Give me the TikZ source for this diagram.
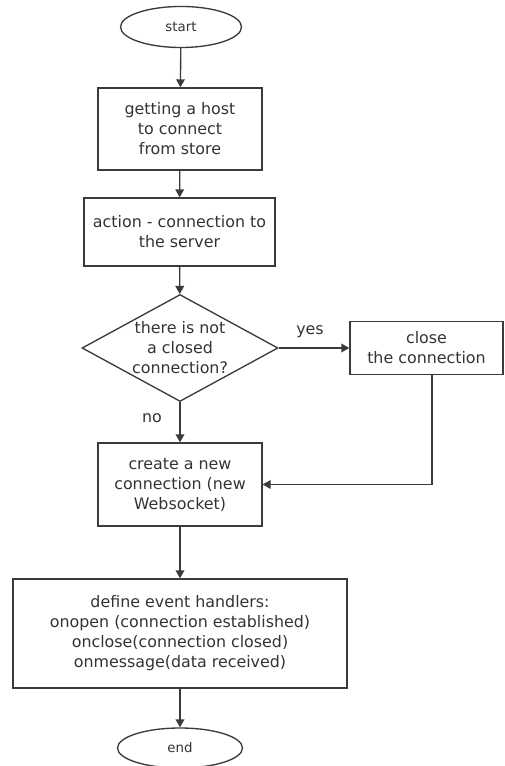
\documentclass[tikz,border=0pt]{standalone}
\usepackage{fontspec}
\setmainfont{DejaVu Sans}
\usetikzlibrary{shapes.geometric,arrows.meta}
\definecolor{ink}{HTML}{3A3A3A}
\definecolor{txt}{HTML}{333333}
\newcommand{\boxfont}{\fontsize{11.9pt}{15pt}\selectfont}
\newcommand{\termfont}{\fontsize{10pt}{12pt}\selectfont}
\tikzset{
  base/.style={draw=ink, line width=1pt, text=txt, align=center, inner sep=0pt, font=\boxfont},
  terminal/.style={base, ellipse, font=\termfont},
  process/.style={base, rectangle},
  decision/.style={base, diamond},
  label/.style={text=txt, inner sep=0pt, font=\boxfont, align=center},
  flow/.style={draw=ink, line width=1pt, -{Triangle[length=6pt,width=6.5pt]}}
}
\begin{document}
\begin{tikzpicture}[x=0.75pt, y=-0.75pt]
  \useasboundingbox (0,0) rectangle (504,766);

  % terminals, steps and the decision
  \node[terminal, minimum width=90.75pt, minimum height=30.75pt] (start) at (181,27) {start};
  \node[process, minimum width=123pt, minimum height=61.5pt] (host) at (180,129)
    {getting a host\\to connect\\from store};
  \node[process, minimum width=143.25pt, minimum height=51pt] (action) at (179.5,232)
    {action - connection to\\the server};
  \node[decision, minimum width=147pt, minimum height=80.25pt] (check) at (180,348) {};
  \node[label] at (check) {there is not\\a closed\\connection?};
  \node[process, minimum width=114.75pt, minimum height=39.75pt] (close) at (426.5,348)
    {close\\the connection};
  \node[process, minimum width=123pt, minimum height=62.25pt] (create) at (180,484.5)
    {create a new\\connection (new\\Websocket)};
  \node[process, minimum width=250.5pt, minimum height=81.75pt] (handlers) at (180,633.5)
    {define event handlers:\\onopen (connection established)\\onclose(connection closed)\\onmessage(data received)};
  \node[terminal, minimum width=93.75pt, minimum height=30pt] (end) at (180,748) {end};

  % connectors
  \draw[flow] (start) -- (host);
  \draw[flow] (host) -- (action);
  \draw[flow] (action) -- (check);
  \draw[flow] (check.east) -- (close.west);
  \draw[flow] (check) -- (create);
  \coordinate (drop) at (432,484.5);
  \draw[flow] (close.south -| drop) -- (drop) -- (create.east);
  \draw[flow] (create) -- (handlers);
  \draw[flow] (handlers) -- (end);

  % branch labels
  \node[label] (yes) at (310,332) {yes};
  \node[label] (no) at (152,418) {no};
\end{tikzpicture}
\end{document}
